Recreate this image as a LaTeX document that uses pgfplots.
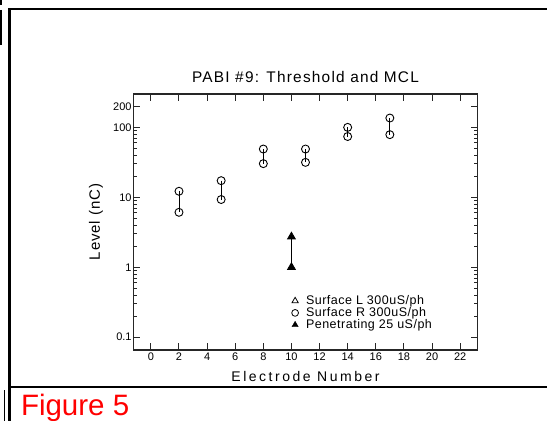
\documentclass[border=0pt]{standalone}
\usepackage{pgfplots}
\pgfplotsset{compat=1.18}
\usepackage{fontspec}
\setmainfont{Liberation Sans}
\newcommand\ttlfont{\fontsize{15.4bp}{18bp}\selectfont\addfontfeature{LetterSpace=8}}
\newcommand\lblfont{\fontsize{14bp}{16bp}\selectfont\addfontfeature{LetterSpace=18}}
\newcommand\ylblfont{\fontsize{15bp}{17bp}\selectfont\addfontfeature{LetterSpace=6}}
\newcommand\tckfont{\fontsize{11bp}{13bp}\selectfont}
\newcommand\legfont{\fontsize{12.5bp}{14bp}\selectfont\addfontfeature{LetterSpace=4}}
\begin{document}
\begin{tikzpicture}
\useasboundingbox (0,0) rectangle (547bp,421bp);
\clip (0,0) rectangle (547bp,421bp);
% frame lines of the page
\draw[line width=2.5bp] (9.3bp,0) -- (9.3bp,413bp);
\draw[line width=2.5bp] (8bp,412bp) -- (547bp,412bp);
\draw[line width=2.5bp] (8bp,34bp) -- (547bp,34bp);
\draw[line width=1.5bp] (0.8bp,421bp) -- (0.8bp,416bp);
\draw[line width=1.5bp] (0.8bp,411bp) -- (0.8bp,376bp);
\draw[line width=1.5bp] (4.5bp,0) -- (4.5bp,31bp);
\node[anchor=base west, inner sep=0pt, text=red, font=\fontsize{29.5bp}{34bp}\selectfont] at (20.8bp,5.5bp) {Figure 5};
\begin{axis}[
  at={(133.3bp,71bp)}, anchor=south west,
  scale only axis, width=344.4bp, height=256bp,
  ymode=log,
  xmin=-1.25, xmax=23.25,
  ymin=0.0656, ymax=300,
  xtick={0,2,...,22},
  ytick={0.1,1,10,100,200},
  yticklabels={0.1,1,10,100,200},
  minor ytick={0.2,0.3,0.4,0.5,0.6,0.7,0.8,0.9,2,3,4,5,6,7,8,9,20,30,40,50,60,70,80,90},
  tick align=inside,
  major tick length=7bp, minor tick length=4bp,
  every tick/.style={black!85, line width=1bp},
  axis line style={black!85, line width=1.3bp},
  /pgf/number format/assume math mode=true,
  ticklabel style={font=\tckfont},
  xticklabel style={inner sep=2.5bp},
  yticklabel style={inner sep=1.5bp},
  title={PABI \#9: Threshold and MCL},
  title style={font=\ttlfont, at={(axis description cs:0.5,1.045)}, anchor=center, inner sep=0pt},
  xlabel={Electrode Number},
  xlabel style={font=\lblfont, at={(axis description cs:0.5,-0.1035)}, anchor=center, inner sep=0pt},
  ylabel={Level (nC)},
  ylabel style={font=\ylblfont, at={(axis description cs:-0.108,0.5)}, anchor=center, inner sep=0pt},
  unbounded coords=jump,
  legend style={draw=none, fill=none, font=\legfont, inner sep=0pt,
    at={(axis description cs:0.4594,0.216)}, anchor=north west,
    row sep=0pt,
    nodes={inner sep=0.5bp, text height=8.8bp, text depth=2.2bp},
    /tikz/every odd column/.append style={column sep=7bp}},
  legend cell align=left,
]
\addlegendimage{only marks, mark=triangle, mark size=3.6bp, black, mark options={line width=0.8bp}}
\addlegendentry{Surface L 300uS/ph}
\addlegendimage{only marks, mark=o, mark size=3.4bp, black, mark options={line width=0.8bp}}
\addlegendentry{Surface R 300uS/ph}
\addlegendimage{only marks, mark=triangle*, mark size=3.6bp, black}
\addlegendentry{Penetrating 25 uS/ph}

\addplot[forget plot, black, line width=0.8bp, mark=o, mark size=4bp,
  mark options={fill=white, line width=0.9bp}] coordinates {
  (2,12.2) (2,6.1) (3,nan)
  (5,17.3) (5,9.3) (6,nan)
  (8,49) (8,30.3) (9,nan)
  (11,49) (11,31.6) (12,nan)
  (14,100) (14,74) (15,nan)
  (17,136) (17,78.7)
};
\addplot[forget plot, black, line width=0.8bp, mark=triangle*, mark size=4.5bp] coordinates {
  (10,2.73) (10,1.0)
};
\end{axis}
\end{tikzpicture}
\end{document}
